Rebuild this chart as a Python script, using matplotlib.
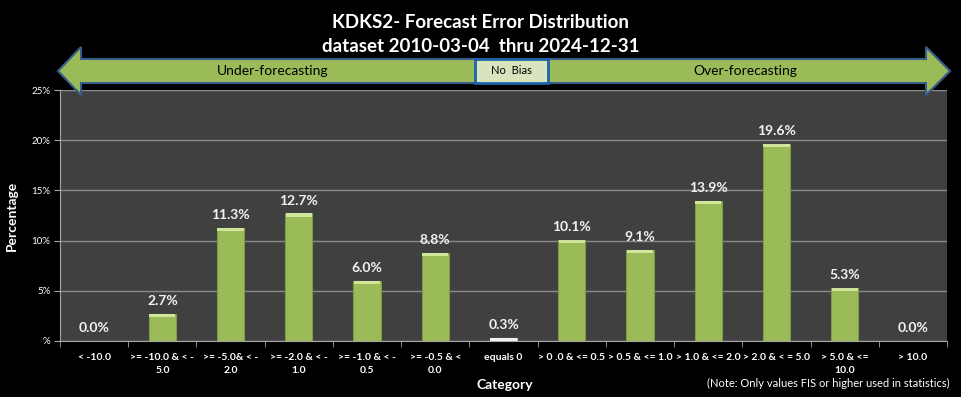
import matplotlib
matplotlib.use("Agg")
import matplotlib.pyplot as plt
from matplotlib.patches import Polygon, Rectangle
from matplotlib.ticker import FixedLocator, FuncFormatter
import numpy as np

categories = ["< -10.0", ">= -10.0 & < -\n5.0", ">= -5.0& < -\n2.0", ">= -2.0 & < -\n1.0",
              ">= -1.0 & < -\n0.5", ">= -0.5 & <\n0.0", "equals 0", "> 0 .0 & <= 0.5",
              "> 0.5 & <= 1.0", "> 1.0 & <= 2.0", "> 2.0 & < = 5.0", "> 5.0 & <=\n10.0", "> 10.0"]
values = [0.0, 2.7, 11.3, 12.7, 6.0, 8.8, 0.3, 10.1, 9.1, 13.9, 19.6, 5.3, 0.0]
zero_index = 6
yticks = [0, 5, 10, 15, 20, 25]

fam = ['Lato', 'DejaVu Sans']
plt.rcParams['font.family'] = fam

W, H = 961, 397
fig = plt.figure(figsize=(W / 100, H / 100), dpi=100, facecolor='black')

def fx(px):
    return px / W

def fy(py):
    return 1 - py / H

ax = fig.add_axes([fx(60), fy(341), fx(947) - fx(60), fy(90) - fy(341)])
ax.set_facecolor('#404040')

x = np.arange(len(categories))
colors = ['#9bbb59'] * len(values)
colors[zero_index] = '#d9d9d9'
edges = ['#7d9a44'] * len(values)
edges[zero_index] = '#bfbfbf'
bw = 0.4
ax.bar(x, values, width=bw, color=colors, edgecolor=edges, linewidth=0.8, zorder=3)
# top bevel highlight
cap = [min(v, 0.3) for v in values]
capcol = ['#cfe59a'] * len(values)
capcol[zero_index] = '#f2f2f2'
ax.bar(x, cap, width=bw * 0.96, bottom=[v - c for v, c in zip(values, cap)], color=capcol,
       linewidth=0, zorder=4)

for xi, v in zip(x, values):
    ax.annotate(f"{v:.1f}%", (xi, v), xytext=(0, 5), textcoords='offset points',
                ha='center', va='bottom', color='#f2f2f2', fontsize=10, fontweight='bold')

ax.set_xlim(-0.5, len(categories) - 0.5)
ax.set_ylim(0, 25)
ax.yaxis.set_major_locator(FixedLocator(yticks))
ax.yaxis.set_major_formatter(FuncFormatter(lambda v, p: "%" if v == 0 else f"{int(v)}%"))
ax.grid(axis='y', color='#8c8c8c', linewidth=1.0, zorder=0)
ax.set_axisbelow(True)

ax.set_xticks(x)
ax.set_xticklabels(categories, fontsize=7.5, color='white', fontweight='bold', linespacing=1.45)
ax.set_xticks(np.arange(-0.5, len(categories)), minor=True)
ax.tick_params(axis='x', which='major', length=0, pad=9)
ax.tick_params(axis='x', which='minor', length=4, color='#a6a6a6', direction='out')
ax.tick_params(axis='y', length=4, color='#a6a6a6', labelsize=7, labelcolor='white', pad=3)
for s in ['top', 'right']:
    ax.spines[s].set_visible(False)
for s in ['left', 'bottom']:
    ax.spines[s].set_color('#a6a6a6')

ax.set_ylabel("Percentage", color='white', fontsize=10, fontweight='bold', labelpad=10)
fig.text(fx(505), fy(385), "Category", color='white', fontsize=10, fontweight='bold',
         ha='center', va='center')
fig.text(fx(950), fy(383), "(Note: Only values FIS or higher used in statistics)", color='white',
         fontsize=8, ha='right', va='center')

fig.text(0.5, fy(22), "KDKS2- Forecast Error Distribution", color='white', fontsize=13.5,
         fontweight='bold', ha='center', va='center')
fig.text(0.5, fy(47), "dataset 2010-03-04  thru 2024-12-31", color='white', fontsize=13.5,
         fontweight='bold', ha='center', va='center')

# double-headed arrow banner
pts = [(58, 71), (81, 47), (81, 59), (926, 59), (926, 47), (950, 71), (926, 95), (926, 83),
       (81, 83), (81, 95)]
arrow = Polygon([(fx(a), fy(b)) for a, b in pts], closed=True, transform=fig.transFigure,
                facecolor='#9bbb59', edgecolor='#385d8a', linewidth=1.5, zorder=10)
fig.patches.append(arrow)
box = Rectangle((fx(475), fy(83)), fx(548) - fx(475), fy(59) - fy(83), transform=fig.transFigure,
                facecolor='#d7e4bd', edgecolor='#1f63a8', linewidth=2, zorder=11)
fig.patches.append(box)
fig.text(fx(511), fy(71), "No  Bias", fontsize=8, color='black', ha='center', va='center', zorder=12)
fig.text(fx(273), fy(71), "Under-forecasting", fontsize=10, color='black', ha='center',
         va='center', zorder=12)
fig.text(fx(745), fy(71), "Over-forecasting", fontsize=10, color='black', ha='center',
         va='center', zorder=12)

fig.savefig("out.png", dpi=100, facecolor='black')
